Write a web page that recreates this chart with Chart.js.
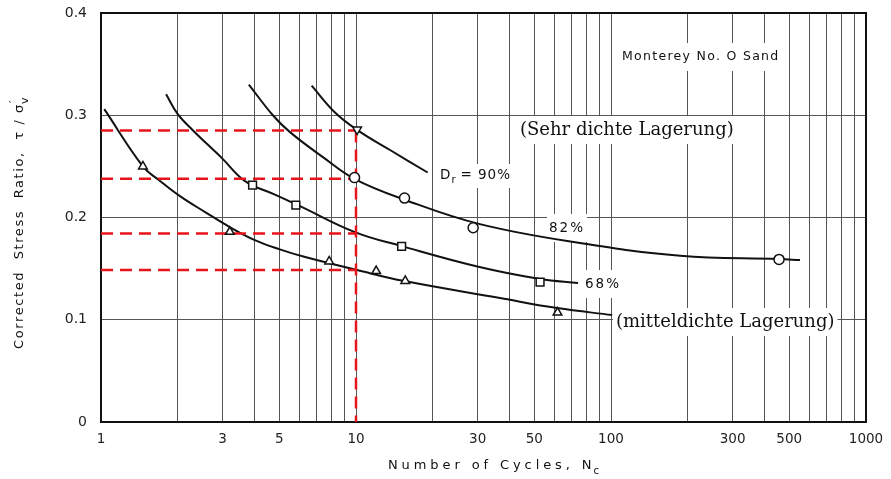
<!DOCTYPE html>
<html>
<head>
<meta charset="utf-8">
<script src="https://cdn.jsdelivr.net/npm/chart.js@4"></script>
<style>
  html, body { margin: 0; padding: 0; background: #fff; }
  #wrap { width: 891px; height: 479px; }
</style>
</head>
<body>
<div id="wrap"><canvas id="chart" width="891" height="479"></canvas></div>
<script>
// curves, N = number of cycles, R = stress ratio
const curve90N = [6.70, 8.25, 10.2, 13.6, 19.1];
const curve90R = [0.329, 0.303, 0.285, 0.266, 0.244];
const curve82N = [3.80, 4.72, 5.51, 7.42, 9.9, 15.5, 30.6, 75.6, 187, 456, 551];
const curve82R = [0.330, 0.300, 0.2835, 0.259, 0.2375, 0.2174, 0.1935, 0.175, 0.1626, 0.1593, 0.1584];
const curve68N = [1.80, 2.00, 2.29, 2.98, 3.67, 4.81, 6.03, 9.9, 15.1, 30.5, 52.7, 74.3];
const curve68R = [0.3206, 0.3011, 0.2854, 0.2581, 0.2356, 0.2224, 0.2111, 0.1857, 0.172, 0.1515, 0.1398, 0.1359];
const curveLowN = [1.03, 1.46, 1.70, 2.04, 2.56, 3.20, 4.01, 4.99, 6.32, 10.1, 15.5, 36.7, 61.5, 101];
const curveLowR = [0.306, 0.250, 0.236, 0.2209, 0.2053, 0.1906, 0.1779, 0.1691, 0.1613, 0.1486, 0.1378, 0.1212, 0.1114, 0.1046];

// measured points
const pts90N = [10.1];
const pts90R = [0.286];
const pts82N = [9.87, 15.5, 28.8, 456];
const pts82R = [0.239, 0.219, 0.190, 0.159];
const pts68N = [3.93, 5.81, 15.1, 52.7];
const pts68R = [0.2317, 0.2121, 0.1718, 0.1369];
const ptsLowN = [1.46, 3.2, 7.85, 12.0, 15.6, 61.7];
const ptsLowR = [0.250, 0.186, 0.157, 0.1476, 0.138, 0.107];

// red dashed reading lines at N = 10
const readN = 10;
const readR = [0.285, 0.238, 0.1844, 0.1486];

// axis ticks
const gridN = [1,2,3,4,5,6,7,8,9,10,20,30,40,50,60,70,80,90,100,200,300,400,500,600,700,800,900,1000];
const labelN = [1, 3, 5, 10, 30, 50, 100, 300, 500, 1000];

const pairs = (xs, ys) => xs.map((x, i) => ({ x: x, y: ys[i] }));

function curve(xs, ys) {
    return {
        data: pairs(xs, ys),
        showLine: true,
        borderColor: '#111',
        borderWidth: 2,
        pointRadius: 0,
        tension: 0.4,
        order: 3
    };
}

function marks(xs, ys, style, rot) {
    return {
        data: pairs(xs, ys),
        showLine: false,
        pointStyle: style,
        rotation: rot || 0,
        pointRadius: style === 'rect' ? 5.5 : 5,
        borderColor: '#111',
        borderWidth: 1.5,
        backgroundColor: '#fff',
        order: 1
    };
}

const red = {
    borderColor: '#e8141b',
    borderWidth: 2.5,
    borderDash: [12, 7],
    pointRadius: 0,
    showLine: true,
    order: 2
};

const datasets = [
    curve(curve90N, curve90R),
    curve(curve82N, curve82R),
    curve(curve68N, curve68R),
    curve(curveLowN, curveLowR)
];
readR.forEach(r => {
    datasets.push(Object.assign({ data: [{ x: 1, y: r }, { x: readN, y: r }] }, red));
});
datasets.push(Object.assign({ data: [{ x: readN, y: readR[0] }, { x: readN, y: 0 }] }, red));
datasets.push(marks(pts90N, pts90R, 'triangle', 180));
datasets.push(marks(pts82N, pts82R, 'circle'));
datasets.push(marks(pts68N, pts68R, 'rect'));
datasets.push(marks(ptsLowN, ptsLowR, 'triangle'));

function boxText(ctx, text, x, y, font, spacing, pad) {
    ctx.font = font;
    ctx.letterSpacing = spacing + 'px';
    const w = ctx.measureText(text).width;
    ctx.fillStyle = '#fff';
    ctx.fillRect(x - pad, y - 14, w + pad * 2, 28);
    ctx.fillStyle = '#111';
    ctx.textBaseline = 'middle';
    ctx.textAlign = 'left';
    ctx.fillText(text, x, y);
    ctx.letterSpacing = '0px';
    return w;
}

const labelsPlugin = {
    id: 'labels',
    beforeDatasetsDraw(chart) {
        const ctx = chart.ctx;
        const a = chart.chartArea;
        ctx.save();
        // frame
        ctx.strokeStyle = '#111';
        ctx.lineWidth = 2;
        ctx.strokeRect(a.left, a.top, a.right - a.left, a.bottom - a.top);

        boxText(ctx, 'Monterey No. O Sand', 622, 57, '12.5px "DejaVu Sans"', 1.3, 4);
        boxText(ctx, '(Sehr dichte Lagerung)', 520, 130, '18px "DejaVu Serif"', 0, 4);
        boxText(ctx, '(mitteldichte Lagerung)', 616, 322, '18px "DejaVu Serif"', 0, 3);
        boxText(ctx, '82%', 549, 228, '13.5px "DejaVu Sans"', 2, 2);
        boxText(ctx, '68%', 585, 284, '13.5px "DejaVu Sans"', 2, 2);

        // D_r = 90%
        ctx.font = '13.5px "DejaVu Sans"';
        ctx.letterSpacing = '1px';
        const dw = ctx.measureText('D').width;
        ctx.fillStyle = '#fff';
        ctx.fillRect(437, 164, 74, 24);
        ctx.fillStyle = '#111';
        ctx.textBaseline = 'middle';
        ctx.fillText('D', 440, 175);
        ctx.font = '10px "DejaVu Sans"';
        ctx.fillText('r', 440 + dw, 180);
        ctx.font = '13.5px "DejaVu Sans"';
        ctx.fillText('= 90%', 440 + dw + 9, 175);
        ctx.letterSpacing = '0px';
        ctx.restore();
    },
    afterDraw(chart) {
        const ctx = chart.ctx;
        ctx.save();
        ctx.fillStyle = '#111';
        ctx.textBaseline = 'middle';
        ctx.textAlign = 'left';

        // x title
        ctx.font = '13px "DejaVu Sans"';
        ctx.letterSpacing = '3.9px';
        ctx.fillText('Number of Cycles, N', 388, 466);
        const xw = ctx.measureText('Number of Cycles, N').width;
        ctx.font = '10px "DejaVu Sans"';
        ctx.letterSpacing = '0px';
        ctx.fillText('c', 388 + xw - 2, 471);

        // y title (rotated)
        ctx.translate(20, 221);
        ctx.rotate(-Math.PI / 2);
        ctx.font = '13px "DejaVu Sans"';
        ctx.letterSpacing = '1.6px';
        const main = 'Corrected  Stress  Ratio,  τ / σ';
        const mw = ctx.measureText(main).width;
        const x0 = -(mw + 10) / 2;
        ctx.fillText(main, x0, 0);
        ctx.font = '11px "DejaVu Sans"';
        ctx.letterSpacing = '0px';
        ctx.fillText('′', x0 + mw, -6);
        ctx.fillText('v', x0 + mw - 1, 5);
        ctx.restore();
    }
};

function noPad(scale) {
    scale.paddingTop = 0;
    scale.paddingBottom = 0;
    scale.paddingLeft = 0;
    scale.paddingRight = 0;
}

new Chart(document.getElementById('chart'), {
    type: 'scatter',
    data: { datasets: datasets },
    options: {
        responsive: false,
        animation: false,
        layout: { padding: { left: 0, top: 13, right: 25, bottom: 0 } },
        plugins: {
            legend: { display: false },
            tooltip: { enabled: false }
        },
        scales: {
            x: {
                type: 'logarithmic',
                min: 1,
                max: 1000,
                afterBuildTicks: scale => { scale.ticks = gridN.map(v => ({ value: v })); },
                afterFit: scale => { scale.height = 57; noPad(scale); },
                grid: { color: '#555', lineWidth: 1, drawTicks: false },
                border: { color: '#111', width: 2 },
                ticks: {
                    autoSkip: false,
                    maxRotation: 0,
                    padding: 9,
                    color: '#222',
                    font: { family: '"DejaVu Sans"', size: 13.5 },
                    callback: v => labelN.includes(v) ? String(v) : ''
                }
            },
            y: {
                min: 0,
                max: 0.4,
                afterFit: scale => { scale.width = 101; noPad(scale); },
                grid: { color: '#555', lineWidth: 1, drawTicks: false },
                border: { color: '#111', width: 2 },
                ticks: {
                    stepSize: 0.1,
                    padding: 14,
                    color: '#222',
                    font: { family: '"DejaVu Sans"', size: 14 }
                }
            }
        }
    },
    plugins: [labelsPlugin]
});
</script>
</body>
</html>
